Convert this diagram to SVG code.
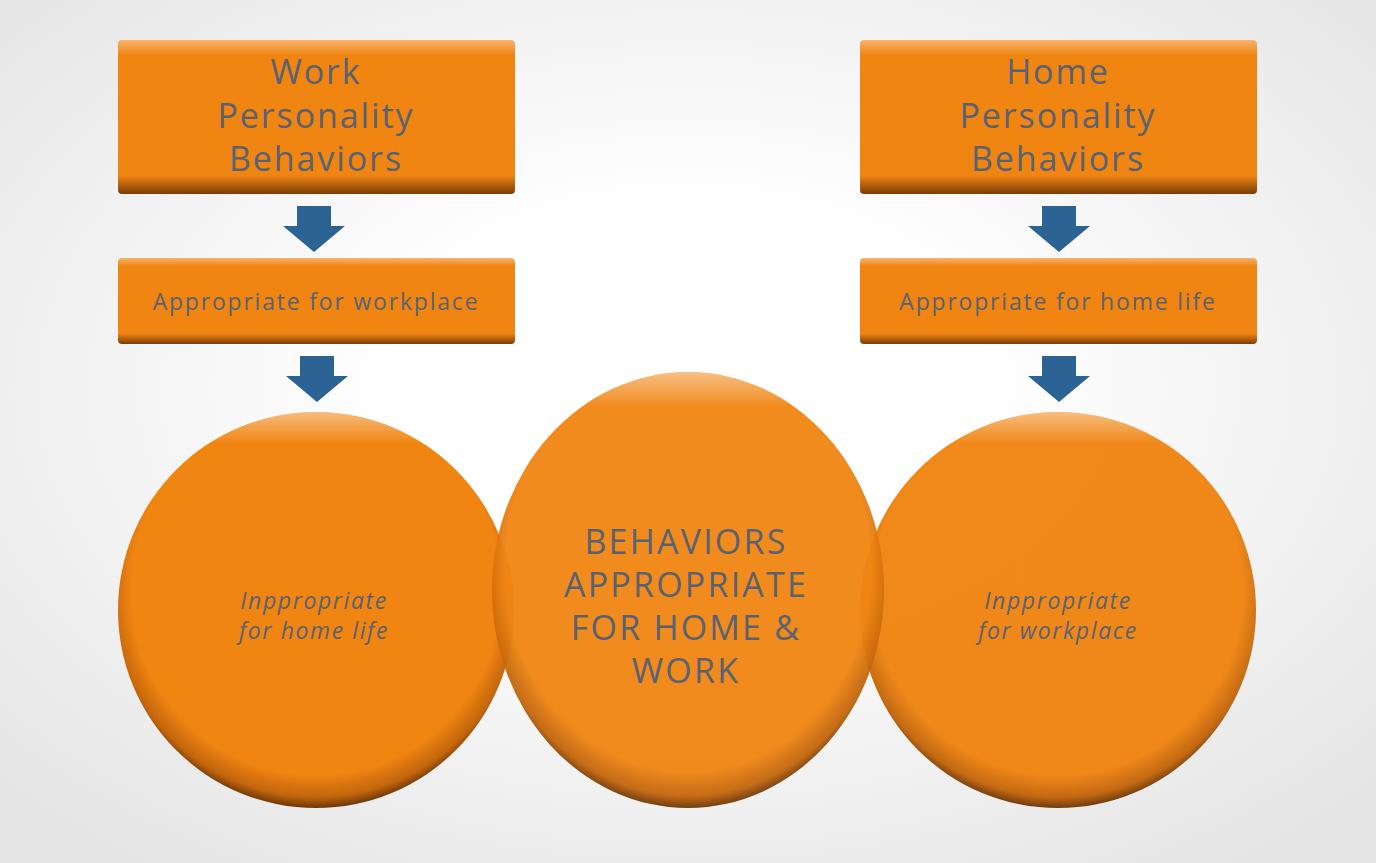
<svg xmlns="http://www.w3.org/2000/svg" width="1376" height="863" viewBox="0 0 1376 863">
<defs>
<radialGradient id="bg" cx="0.5" cy="0.45" r="0.7"><stop offset="0.3" stop-color="#ffffff"/><stop offset="1" stop-color="#e4e4e4"/></radialGradient>
<linearGradient id="bx" x1="0" y1="0" x2="0" y2="1"><stop offset="0" stop-color="#f6b36e"/><stop offset="0.1" stop-color="#f08512"/><stop offset="0.88" stop-color="#f08512"/><stop offset="1" stop-color="#7a3d06"/></linearGradient>
<radialGradient id="cg" cx="0.5" cy="0.45" r="0.55"><stop offset="0.85" stop-color="#f08512"/><stop offset="0.95" stop-color="#c2650c"/><stop offset="1" stop-color="#6e3606"/></radialGradient>
<linearGradient id="hl" x1="0" y1="0" x2="0" y2="1"><stop offset="0" stop-color="#fff" stop-opacity="0.45"/><stop offset="0.08" stop-color="#fff" stop-opacity="0"/></linearGradient>
<path id="ar" d="M-17 0 H17 V20 H31 L0 46 L-31 20 H-17 Z" fill="#2a6394"/>
</defs>
<style>
text{font-family:"Open Sans","Liberation Sans",sans-serif;fill:#5a6272;text-anchor:middle}
.t{font-size:34px;letter-spacing:1.9px}.s{font-size:23px;letter-spacing:1.8px}.i{font-size:23px;font-style:italic;letter-spacing:1.6px}.c{font-size:34px;letter-spacing:2.2px}
</style>
<rect width="1376" height="863" fill="url(#bg)"/>
<g id="connectors">
<use href="#ar" x="314" y="206"/><use href="#ar" x="317" y="356"/>
<use href="#ar" x="1059" y="206"/><use href="#ar" x="1059" y="356"/>
</g>
<g id="work"><rect x="118" y="40" width="397" height="154" rx="4" fill="url(#bx)"/><text class="t" x="316" y="84">Work</text><text class="t" x="316" y="128">Personality</text><text class="t" x="316" y="171">Behaviors</text></g>
<g id="home"><rect x="860" y="40" width="397" height="154" rx="4" fill="url(#bx)"/><text class="t" x="1058" y="84">Home</text><text class="t" x="1058" y="128">Personality</text><text class="t" x="1058" y="171">Behaviors</text></g>
<g id="appwork"><rect x="118" y="258" width="397" height="86" rx="4" fill="url(#bx)"/><text class="s" x="316" y="310">Appropriate for workplace</text></g>
<g id="apphome"><rect x="860" y="258" width="397" height="86" rx="4" fill="url(#bx)"/><text class="s" x="1058" y="310">Appropriate for home life</text></g>
<g id="c1"><ellipse cx="316" cy="610" rx="198" ry="198" fill="url(#cg)"/><ellipse cx="316" cy="610" rx="198" ry="198" fill="url(#hl)"/><text class="i" x="314" y="609">Inppropriate</text><text class="i" x="314" y="639">for home life</text></g>
<g id="c3"><ellipse cx="1058" cy="610" rx="198" ry="198" fill="url(#cg)" opacity="0.97"/><ellipse cx="1058" cy="610" rx="198" ry="198" fill="url(#hl)"/><text class="i" x="1058" y="609">Inppropriate</text><text class="i" x="1058" y="639">for workplace</text></g>
<g id="c2"><ellipse cx="688" cy="590" rx="196" ry="218" fill="url(#cg)" opacity="0.95"/><ellipse cx="688" cy="590" rx="196" ry="218" fill="url(#hl)"/><text class="c" x="686" y="554">BEHAVIORS</text><text class="c" x="686" y="597">APPROPRIATE</text><text class="c" x="686" y="640">FOR HOME &amp;</text><text class="c" x="686" y="683">WORK</text></g>
</svg>
